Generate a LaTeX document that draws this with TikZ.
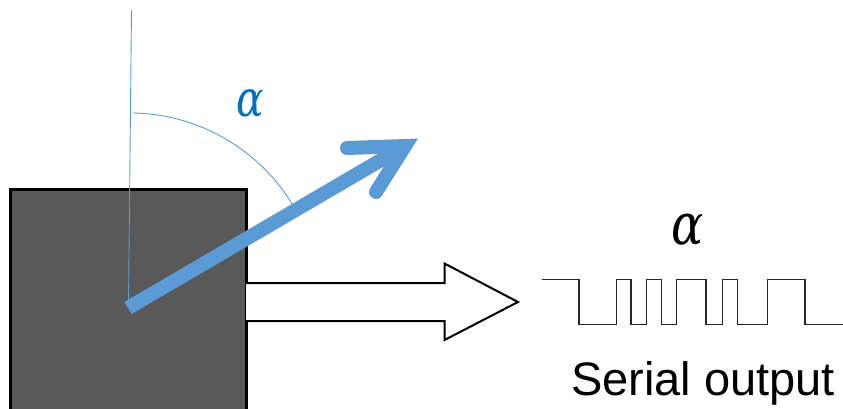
\documentclass[tikz,border=0pt]{standalone}
\usepackage{fontspec}
\setmainfont{Liberation Sans}
\newfontfamily\greekserif{DejaVu Serif}
\usetikzlibrary{calc}
\definecolor{boxgray}{HTML}{595959}
\definecolor{lightblue}{HTML}{5B9BD5}
\definecolor{alphablue}{HTML}{0070C0}
\tikzset{
  sensor/.style={draw=black, fill=boxgray, line width=3pt},
  refline/.style={draw=lightblue, line width=0.9pt},
  bigarrow/.style={draw=lightblue, line width=14pt},
  hollow/.style={draw=black, fill=white, line width=2pt, line join=miter},
  wave/.style={draw=black!85, line width=1.6pt},
  lbl/.style={inner sep=0pt, outer sep=0pt}
}
\begin{document}
\begin{tikzpicture}[x=1pt, y=-1pt]
\useasboundingbox (0,0) rectangle (843,408);
\clip (0,0) rectangle (843,408);
% sensor box
\path[sensor] (10.5,189.5) rectangle (246,420);
% reference line and arc
\coordinate (c) at (128.5,303);
\coordinate (top) at (131.5,10);
\draw[refline] (c) -- (top);
\draw[refline] (133,113) arc[start angle=-89, end angle=-31, radius=190.5];
% blue arrow
\coordinate (tail) at (128,308);
\coordinate (tip) at (405,146);
\draw[bigarrow, line cap=butt] (tail) -- (tip);
\draw[bigarrow, line cap=round, line join=miter, miter limit=10] (347,148) -- (tip) -- (376,192);
\node[lbl, text=alphablue] (a1) at (250.5,103.5) {\greekserif\itshape\fontsize{48}{48}\selectfont\scalebox{0.85}[1.05]{α}};
% hollow arrow
\path[hollow] (246,283) -- (444.5,283) -- (444.5,263.5) -- (518,302) -- (444.5,340) -- (444.5,321) -- (246,321);
% waveform
\draw[wave] (541.5,279.5) -- (579,279.5) -- (579,324.5) -- (616.5,324.5) -- (616.5,279.5) -- (631,279.5) -- (631,324.5) -- (646.5,324.5) -- (646.5,279.5) -- (661.5,279.5) -- (661.5,324.5) -- (676.5,324.5) -- (676.5,279.5) -- (706,279.5) -- (706,324.5) -- (722.5,324.5) -- (722.5,279.5) -- (737.5,279.5) -- (737.5,324.5) -- (767.5,324.5) -- (767.5,279.5) -- (805,279.5) -- (805,324.5) -- (843,324.5);
\node[lbl] (a2) at (687.5,230) {\greekserif\itshape\fontsize{56}{56}\selectfont\scalebox{0.85}[1.02]{α}};
\node[lbl, anchor=base west] (out) at (571,395.5) {\fontsize{47}{47}\selectfont Serial output};
\end{tikzpicture}
\end{document}
